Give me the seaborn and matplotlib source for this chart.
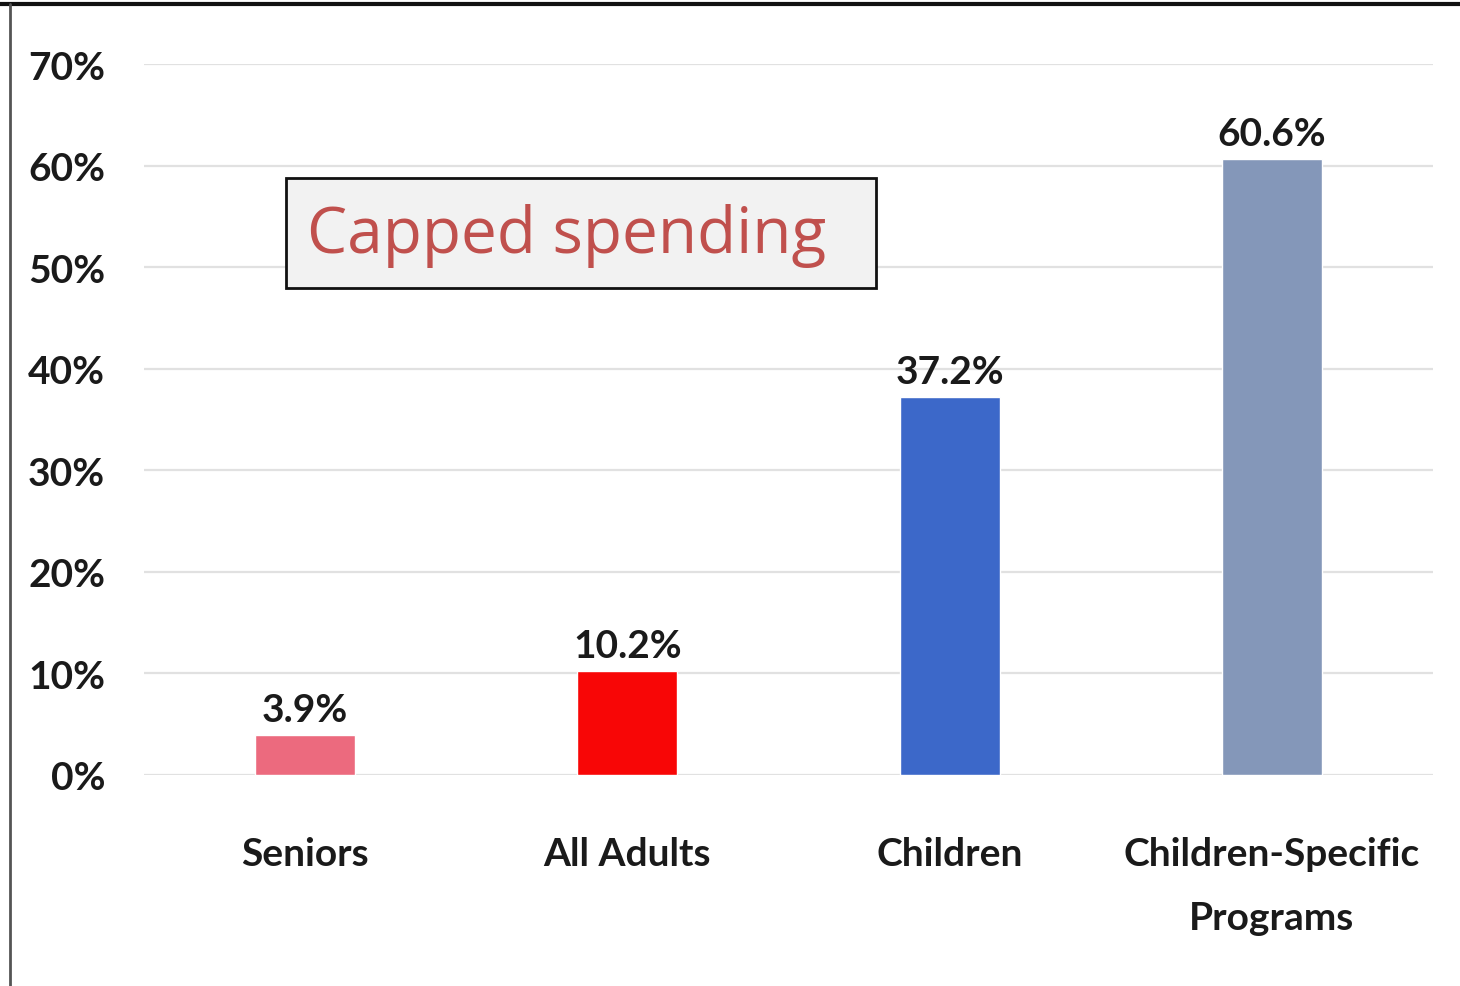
import matplotlib
matplotlib.use("Agg")
import matplotlib.pyplot as plt
from matplotlib.lines import Line2D
from matplotlib.patches import Rectangle
from matplotlib.ticker import FuncFormatter, MultipleLocator
import seaborn as sns
import pandas as pd

categories = ["Seniors", "All Adults", "Children", "Children-Specific\nPrograms"]
shares = [3.9, 10.2, 37.2, 60.6]
bar_colors = ["#EC6A7E", "#F80606", "#3C68C9", "#8497B9"]
note_text = "Capped spending"

sns.set_theme(style="white")
label_font = ["Lato", "DejaVu Sans"]
plt.rcParams["font.family"] = label_font

df = pd.DataFrame({"group": categories, "share": shares})

fig = plt.figure(figsize=(14.6, 9.87), dpi=100)
ax = fig.add_axes([144 / 1460, 1 - 776 / 987, (1433 - 144) / 1460, (776 - 65) / 987])

sns.barplot(data=df, x="group", y="share", hue="group", palette=bar_colors,
            legend=False, width=0.31, ax=ax, saturation=1)

ax.set_xlim(-0.5, 3.5)
ax.set_ylim(0, 70)
ax.yaxis.set_major_locator(MultipleLocator(10))
ax.yaxis.set_major_formatter(FuncFormatter(lambda v, _: f"{v:.0f}%"))
ax.grid(axis="y", color="#E1E1E1", linewidth=1.6)
ax.set_axisbelow(True)
for s in ax.spines.values():
    s.set_visible(False)
ax.set_xlabel("")
ax.set_ylabel("")
ax.tick_params(axis="y", labelsize=28, pad=28, length=0)
ax.tick_params(axis="x", labelsize=28, pad=44, length=0)
for lbl in ax.get_yticklabels() + ax.get_xticklabels():
    lbl.set_fontweight("bold")
    lbl.set_color("#1A1A1A")
for lbl in ax.get_xticklabels():
    lbl.set_linespacing(2.0)

for i, v in enumerate(shares):
    ax.annotate(f"{v}%", (i, v), xytext=(0, 6), textcoords="offset points",
                ha="center", va="bottom", fontsize=28, fontweight="bold",
                color="#1A1A1A")

# note box
fig.add_artist(Rectangle((286 / 1460, 1 - 289 / 987), 590 / 1460, 110 / 987,
                         transform=fig.transFigure, facecolor="#F2F2F2",
                         edgecolor="#111111", linewidth=2))
fig.text(567 / 1460, 1 - 236 / 987, note_text, ha="center", va="center",
         fontsize=46, color="#C0504D", family=["Open Sans", "DejaVu Sans"])

# frame lines
fig.add_artist(Line2D([0, 1], [1 - 5 / 987, 1 - 5 / 987], transform=fig.transFigure,
                      color="#111111", linewidth=3))
fig.add_artist(Line2D([10 / 1460, 10 / 1460], [0, 1 - 5 / 987], transform=fig.transFigure,
                      color="#555555", linewidth=2))

fig.savefig("out.png", dpi=100)
